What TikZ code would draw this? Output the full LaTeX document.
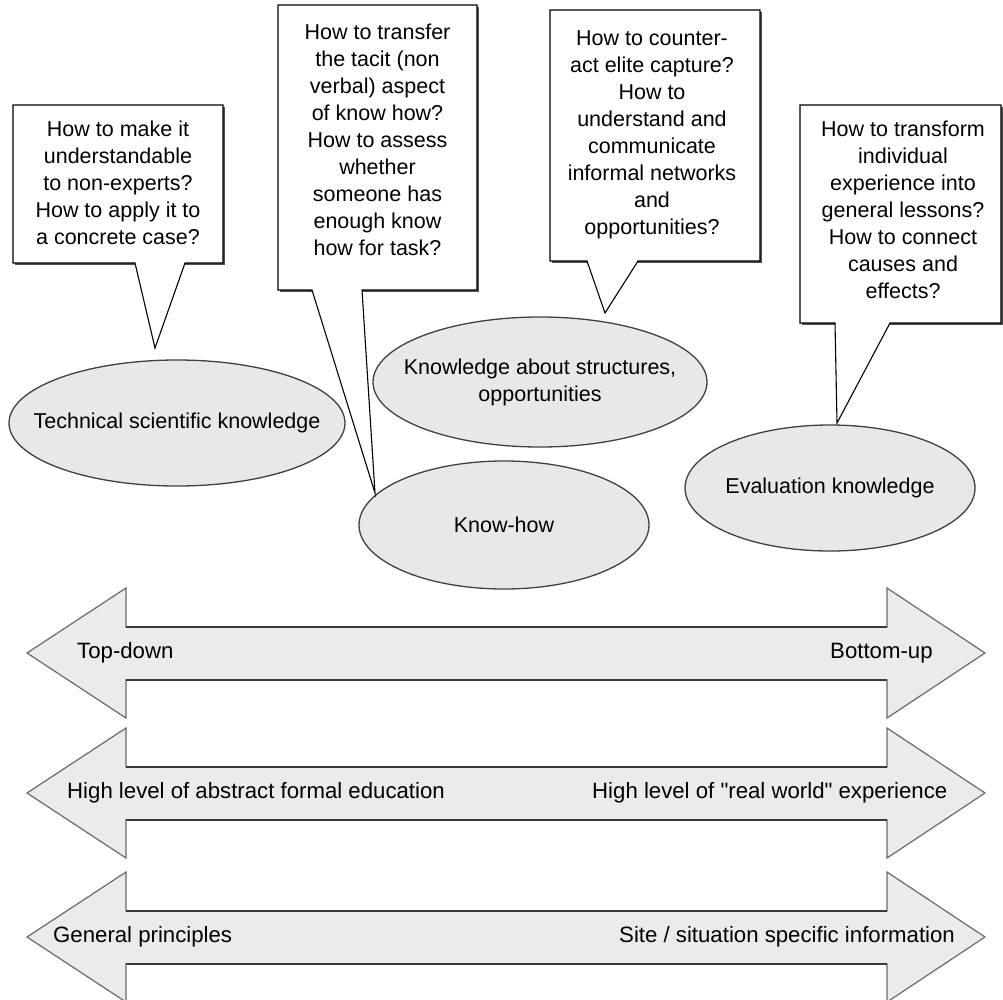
\documentclass[tikz,border=0pt]{standalone}
\usepackage{fontspec}
\setmainfont{Liberation Sans}
\usetikzlibrary{shapes.geometric}

\definecolor{bubblefill}{HTML}{E8E8E8}
\definecolor{arrowfill}{HTML}{EBEBEB}
\definecolor{edgegray}{HTML}{404040}
\definecolor{shadowgray}{HTML}{505050}
\definecolor{shaftedge}{HTML}{3A3A3A}

\tikzset{
  txt/.style={font=\fontsize{21.5}{27}\selectfont, inner sep=0pt},
  scaletxt/.style={font=\fontsize{22.2}{27}\selectfont, inner sep=0pt},
  qtext/.style={txt, align=center},
  callout/.style={draw=black, fill=white, line width=1.1pt, line join=miter},
  boxshadow/.style={fill=shadowgray},
  topic/.style={ellipse, draw=edgegray, fill=bubblefill, line width=1.3pt,
    inner sep=0pt, outer sep=0pt},
  topictext/.style={txt, align=center},
  scale arrow/.style={draw=shadowgray!85, fill=arrowfill, line width=1.2pt, line join=miter},
  shaft line/.style={draw=shaftedge, line width=1.6pt}
}

\begin{document}
\begin{tikzpicture}[x=1pt,y=-1pt]
\useasboundingbox (0,0) rectangle (1003,999);

% ---------- knowledge types ----------
\node[topic, minimum width=336pt, minimum height=126pt] (tsk) at (177,423) {};
\node[topictext] (tsk-t) at (tsk.center) {Technical scientific knowledge};
\node[topic, minimum width=334pt, minimum height=130pt] (kas) at (540,382) {};
\node[topictext] (kas-t) at (kas.center) {Knowledge about structures,\\opportunities};
\node[topic, minimum width=290pt, minimum height=128pt] (kh) at (504,525) {};
\node[topictext] (kh-t) at (kh.center) {Know-how};
\node[topic, minimum width=290pt, minimum height=126pt] (ev) at (830,488) {};
\node[topictext] (ev-t) at (ev.center) {Evaluation knowledge};

% ---------- question bubbles ----------
% tips of the speech-bubble tails
\coordinate (tip1) at (155,348);
\coordinate (tip2) at (375,493);
\coordinate (tip3) at (605,313);
\coordinate (tip4) at (837,423);

% bubble 1
\fill[boxshadow] (15,107) rectangle (225,265);
\draw[callout] (13,105) -- (223,105) -- (223,263) -- (185,263) -- (tip1)
  -- (135,263) -- (13,263) -- cycle;
\node[qtext] (q1) at (118,183)
  {How to make it\\understandable\\to non-experts?\\How to apply it to\\a concrete case?};

% bubble 2
\fill[boxshadow] (280,7) rectangle (479,292);
\draw[callout] (278,5) -- (477,5) -- (477,290) -- (362,290) -- (tip2)
  -- (312,290) -- (278,290) -- cycle;
\node[qtext] (q2) at (377.5,140)
  {How to transfer\\the tacit (non\\verbal) aspect\\of know how?\\How to assess\\whether\\someone has\\enough know\\how for task?};

% bubble 3
\fill[boxshadow] (552,12) rectangle (762,263);
\draw[callout] (550,10) -- (760,10) -- (760,261) -- (638,261) -- (tip3)
  -- (587,261) -- (550,261) -- cycle;
\node[qtext] (q3) at (652,135)
  {How to counter-\\act elite capture?\\How to\\understand and\\communicate\\informal networks\\and\\opportunities?};

% bubble 4
\fill[boxshadow] (802,107) rectangle (1003,325);
\draw[callout] (800,105) -- (1001,105) -- (1001,323) -- (890,323) -- (tip4)
  -- (835,323) -- (800,323) -- cycle;
\node[qtext] (q4) at (903,210)
  {How to transform\\individual\\experience into\\general lessons?\\How to connect\\causes and\\effects?};

% ---------- scales ----------
\foreach \c in {653, 793, 937}{
  \draw[scale arrow] (27,\c) -- (126,\c-65) -- (126,\c-26) -- (887,\c-26)
    -- (887,\c-65) -- (985,\c) -- (887,\c+65) -- (887,\c+27) -- (126,\c+27)
    -- (126,\c+65) -- cycle;
  \draw[shaft line] (126,\c-26) -- (887,\c-26);
  \draw[shaft line] (126,\c+27) -- (887,\c+27);
}

\node[scaletxt, anchor=west] (l1) at (77,653) {Top-down};
\node[scaletxt, anchor=west] (r1) at (830,653) {Bottom-up};
\node[scaletxt, anchor=west] (l2) at (67,793) {High level of abstract formal education};
\node[scaletxt, anchor=west] (r2) at (592,793) {High level of \textquotedbl real world\textquotedbl{} experience};
\node[scaletxt, anchor=west] (l3) at (53,937) {General principles};
\node[scaletxt, anchor=west] (r3) at (619,937) {Site / situation specific information};
\end{tikzpicture}
\end{document}
